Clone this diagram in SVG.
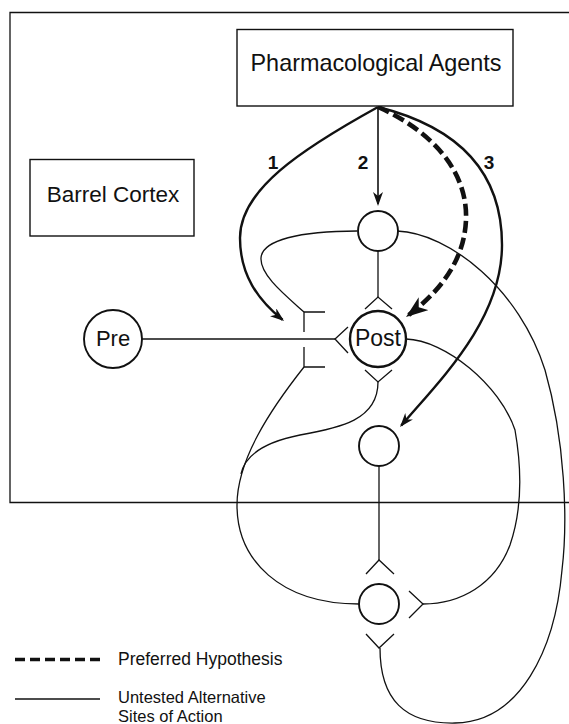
<svg xmlns="http://www.w3.org/2000/svg" width="569" height="724" viewBox="0 0 569 724">
  <style>
    .ln { fill: none; stroke: #111; stroke-width: 1.3; }
    .box { fill: #fff; stroke: #111; stroke-width: 1.4; }
    .cell { fill: #fff; stroke: #111; stroke-width: 1.9; }
    .cell-main { fill: #fff; stroke: #111; stroke-width: 2.4; }
    .arw { fill: none; stroke: #111; stroke-width: 2.4; }
    .arw2 { fill: none; stroke: #111; stroke-width: 1.6; }
    .dash { fill: none; stroke: #111; stroke-width: 4.6; stroke-dasharray: 12 5; }
    .txt { font-family: "Liberation Sans", Arial, Helvetica, sans-serif; fill: #111; }
    .num { font-family: "Liberation Sans", Arial, Helvetica, sans-serif; font-weight: bold; font-size: 19px; fill: #111; text-anchor: middle; }
  </style>
  <defs>
    <marker id="headSm" markerUnits="userSpaceOnUse" viewBox="0 0 14 10" markerWidth="14" markerHeight="10" refX="12" refY="5" orient="auto">
      <path d="M0,0 L14,5 L0,10 L4,5 Z" fill="#111"/>
    </marker>
    <marker id="headLg" markerUnits="userSpaceOnUse" viewBox="0 0 22 16" markerWidth="22" markerHeight="16" refX="19" refY="8" orient="auto">
      <path d="M0,0 L22,8 L0,16 L6,8 Z" fill="#111"/>
    </marker>
  </defs>

  <rect width="569" height="724" fill="#fff"/>

  <!-- cortex boundary -->
  <g id="frame">
    <path class="ln" d="M575,12.5 H10 V502.5 H575"/>
  </g>

  <!-- axons, dendrites and drug pathways -->
  <g id="connectors">
    <!-- Pre to Post -->
    <path class="ln" d="M142,339 H335"/>
    <!-- top cell to Post apical input -->
    <path class="ln" d="M378,251 V297"/>
    <!-- middle cell down to bottom cell -->
    <path class="ln" d="M379,466 V560"/>
    <!-- top cell left axon to upper terminal -->
    <path class="ln" d="M357,231 C300,231 262,240 261,258 C260,275 285,295 304,312"/>
    <!-- presynaptic terminals -->
    <path class="ln" d="M325,312 H304 V332"/>
    <path class="ln" d="M325,367 H304 V347"/>
    <!-- lower terminal axon to bottom cell -->
    <path class="ln" d="M304,367 C270,410 237,460 237,505 C237,560 280,604 359,604"/>
    <!-- Post basal output joining the loop -->
    <path class="ln" d="M378,382 C378,420 340,428 300,435 C265,442 245,455 241,474"/>
    <!-- Post right axon to bottom cell right input -->
    <path class="ln" d="M406,339 C445,340 500,385 515,430 C522,470 522,510 510,545 C495,585 460,604 423,604"/>
    <!-- top cell right axon around to bottom cell lower input -->
    <path class="ln" d="M397,231 C450,233 520,290 545,370 C565,440 568,520 562,570 C555,650 520,722 455,723 C405,724 380,700 380,648"/>

    <!-- drug sites of action -->
    <path class="arw" d="M378,107 C300,150 240,190 240,238 C240,275 258,300 282.5,319.8" marker-end="url(#headSm)"/>
    <path class="arw2" d="M378,107 V204" marker-end="url(#headSm)"/>
    <path class="arw" d="M378,107 C450,125 502,165 502,245 C502,320 440,380 401.3,425.5" marker-end="url(#headSm)"/>
    <path class="dash" d="M378,107 C430,130 468,170 466,220 C464,265 435,295 408.4,315.2" marker-end="url(#headLg)"/>
    <text class="num" x="273" y="169">1</text>
    <text class="num" x="363" y="169">2</text>
    <text class="num" x="489" y="169">3</text>
  </g>

  <g id="node-agents">
    <rect class="box" x="237" y="29.5" width="276" height="76.5"/>
    <text class="txt" x="376" y="71" font-size="23.4" text-anchor="middle">Pharmacological Agents</text>
  </g>

  <g id="node-barrel">
    <rect class="box" x="30" y="159.5" width="164" height="76.5"/>
    <text class="txt" x="113" y="202" font-size="22.5" text-anchor="middle">Barrel Cortex</text>
  </g>

  <g id="node-pre">
    <circle class="cell" cx="113" cy="339" r="29"/>
    <text class="txt" x="113" y="346" font-size="22" text-anchor="middle">Pre</text>
  </g>

  <g id="node-post">
    <circle class="cell-main" cx="378" cy="339" r="28"/>
    <text class="txt" x="378" y="346" font-size="23" text-anchor="middle">Post</text>
    <path class="ln" d="M365,309 L378,297 L392,309"/>
    <path class="ln" d="M348,327 L335,339 L348,353"/>
    <path class="ln" d="M365,370 L378,382 L392,370"/>
  </g>

  <g id="node-top">
    <circle class="cell" cx="378" cy="231" r="20"/>
  </g>

  <g id="node-middle">
    <circle class="cell" cx="379" cy="446" r="20"/>
  </g>

  <g id="node-bottom">
    <circle class="cell" cx="379" cy="604" r="20"/>
    <path class="ln" d="M366,574 L379,560 L394,574"/>
    <path class="ln" d="M409,591 L423,604 L409,618"/>
    <path class="ln" d="M366,634 L379,648 L394,634"/>
  </g>

  <g id="legend">
    <path d="M15,659.5 H100" fill="none" stroke="#111" stroke-width="3.4" stroke-dasharray="10 5"/>
    <text class="txt" x="118" y="665" font-size="17.5">Preferred Hypothesis</text>
    <path class="ln" d="M15,699 H100"/>
    <text class="txt" x="118" y="703" font-size="16.5">Untested Alternative</text>
    <text class="txt" x="118" y="722" font-size="16.5">Sites of Action</text>
  </g>
</svg>
